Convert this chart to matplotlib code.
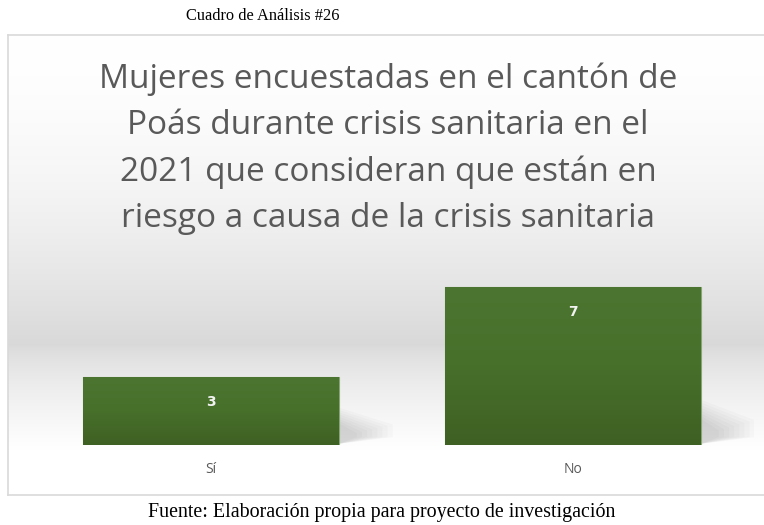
import numpy as np
import matplotlib
matplotlib.use("Agg")
import matplotlib.pyplot as plt
from matplotlib.colors import LinearSegmentedColormap
from matplotlib.patches import Polygon

categories = ["Sí", "No"]
values = [3, 7]
caption_top = "Cuadro de Análisis #26"
chart_title = ("Mujeres encuestadas en el cantón de\nPoás durante crisis sanitaria en el\n"
               "2021 que consideran que están en\nriesgo a causa de la crisis sanitaria")
caption_bottom = "Fuente: Elaboración propia para proyecto de investigación"

W, H = 764, 525
fig = plt.figure(figsize=(W / 100, H / 100), dpi=100)
fig.patch.set_facecolor("white")

def fx(px):
    return px / W

def fy(py):
    return 1 - py / H

# chart area background (vertical gradient)
box_l, box_t, box_b = 8, 35, 495
ax_bg = fig.add_axes([fx(box_l), fy(box_b), 1 - fx(box_l) + 0.01, (box_b - box_t) / H])
n = box_b - box_t
ys = np.arange(n) + box_t + 0.5
def shade(y):
    if y < 345:
        t = (y - box_t) / (345 - box_t)
        return 1.0 - 0.15 * t ** 1.8
    t = min((y - 345) / (450 - 345), 1.0)
    return 0.85 + 0.15 * t ** 0.7
g = np.array([shade(y) for y in ys])
img = np.repeat(np.stack([g, g, g], axis=-1)[:, None, :], 16, axis=1)
ax_bg.imshow(img, extent=[0, 1, 0, 1], origin="upper", aspect="auto",
             interpolation="nearest")
ax_bg.set_xlim(0, 1)
ax_bg.set_ylim(0, 1)
ax_bg.set_xticks([])
ax_bg.set_yticks([])
for s in ax_bg.spines.values():
    s.set_color("#d9d9d9")
    s.set_linewidth(1.2)
ax_bg.spines["right"].set_visible(False)

# main axes
ax = fig.add_axes([fx(30), fy(445), fx(724), 181 / H])
ax.patch.set_alpha(0)
x = np.arange(len(categories))
bars = ax.bar(x, values, width=0.707, color="#47702b", edgecolor="#86a673", linewidth=0.8, zorder=3)
ax.set_xlim(-0.5, len(categories) - 0.5)
ax.set_ylim(0, 8)

cmap = LinearSegmentedColormap.from_list("g", ["#3f6023", "#47702b", "#4b7530"])
for b in bars:
    x0, y0 = b.get_x(), b.get_y()
    w, h = b.get_width(), b.get_height()
    grad = np.linspace(0, 1, 100).reshape(-1, 1)
    im = ax.imshow(grad, extent=[x0, x0 + w, y0, y0 + h], origin="lower", cmap=cmap,
                   aspect="auto", zorder=3.5)
    im.set_clip_path(b)
    # soft perspective shadow at bottom-right
    top = min(h * 0.55, 2.0)
    for k in range(8):
        dx = w * (0.21 - 0.02 * k)
        poly = Polygon([[x0 + w, y0 + 0.05], [x0 + w, y0 + top * (1 - 0.06 * k)],
                        [x0 + w + dx, y0 + top * 0.55 * (1 - 0.06 * k)], [x0 + w + dx, y0 + 0.35]],
                       closed=True, facecolor="black", alpha=0.02, edgecolor="none", zorder=2)
        ax.add_patch(poly)
    ax.text(x0 + w / 2, y0 + h - 1.1, f"{b.get_height():g}", ha="center", va="center",
            color="#f2f2f2", fontsize=10, fontweight="bold", family="DejaVu Sans", zorder=5)

ax.set_xticks(x)
ax.set_xticklabels(categories, fontsize=10, color="#595959", family="Open Sans")
ax.tick_params(axis="x", length=0, pad=12)
ax.set_yticks([])
for s in ax.spines.values():
    s.set_visible(False)

fig.text(fx(388), fy(149), chart_title, ha="center", va="center", fontsize=24,
         color="#595959", family="Open Sans", linespacing=1.52)
fig.text(fx(263), fy(16), caption_top, ha="center", va="center", fontsize=11.8,
         family="Liberation Serif", color="black")
fig.text(fx(382), fy(512), caption_bottom, ha="center", va="center", fontsize=14.4,
         family="Liberation Serif", color="black")

fig.savefig("out.png", dpi=100, facecolor="white")
